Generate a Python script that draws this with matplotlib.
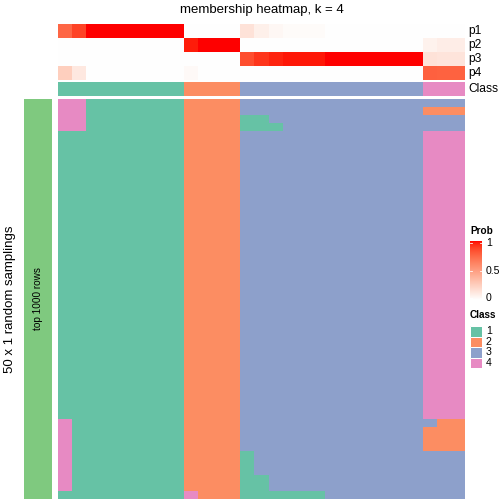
import numpy as np
import matplotlib
matplotlib.use("Agg")
import matplotlib.pyplot as plt
from matplotlib.colors import ListedColormap
from matplotlib.patches import Rectangle

plt.rcParams['font.family'] = ['Liberation Sans', 'DejaVu Sans']

# ---------------- data ----------------
title = "membership heatmap, k = 4"
prob_labels = ["p1", "p2", "p3", "p4"]
class_label = "Class"
classes = [1, 2, 3, 4]

p1 = [0.75, 0.88, 1, 1, 1, 1, 1, 1, 1,
      0, 0, 0, 0,
      0.15, 0.08, 0.04, 0.02, 0.02, 0.02, 0, 0, 0, 0, 0, 0, 0,
      0, 0, 0]
p2 = [0, 0, 0, 0, 0, 0, 0, 0, 0,
      0.97, 1, 1, 1,
      0, 0, 0, 0, 0, 0, 0, 0, 0, 0, 0, 0, 0,
      0.07, 0.09, 0.09]
p3 = [0, 0, 0, 0, 0, 0, 0, 0, 0,
      0, 0, 0, 0,
      0.85, 0.92, 0.96, 0.98, 0.98, 0.98, 1, 1, 1, 1, 1, 1, 1,
      0.15, 0.14, 0.14]
p4 = [0.25, 0.12, 0, 0, 0, 0, 0, 0, 0,
      0.03, 0, 0, 0,
      0, 0, 0, 0, 0, 0, 0, 0, 0, 0, 0, 0, 0,
      0.78, 0.77, 0.77]
sample_class = [1]*9 + [2]*4 + [3]*13 + [4]*3

# 50 random samplings (rows) x 29 samples (columns), class per cell
samplings = [
    "44111111122223333333333333333",
    "44111111122223333333333333222",
    "44111111122221133333333333333",
    "44111111122221113333333333333",
] + ["11111111122223333333333333444"] * 36 + [
    "41111111122223333333333333322",
    "41111111122223333333333333222",
    "41111111122223333333333333222",
    "41111111122223333333333333222",
    "41111111122221333333333333333",
    "41111111122221333333333333333",
    "41111111122221333333333333333",
    "41111111122221133333333333333",
    "41111111122221133333333333333",
    "11111111142221111113333333333",
]
left_label = "50 x 1 random samplings"
bar_label = "top 1000 rows"
prob_ticks = [0, 0.5, 1]

# ---------------- styles ----------------
class_colors = {1: "#66C2A5", 2: "#FC8D62", 3: "#8DA0CB", 4: "#E78AC3"}
bar_color = "#7FC97F"
W = H = 504


def lab_to_rgb(L, a, b):
    fy = (L + 16) / 116
    fx = fy + a / 500
    fz = fy - b / 200
    def finv(t):
        return np.where(t > 6/29, t**3, 3*(6/29)**2*(t - 4/29))
    X = 0.95047 * finv(fx)
    Y = 1.0 * finv(fy)
    Z = 1.08883 * finv(fz)
    M = np.array([[3.2406, -1.5372, -0.4986],
                  [-0.9689, 1.8758, 0.0415],
                  [0.0557, -0.2040, 1.0570]])
    lin = M @ np.vstack([X, Y, Z])
    lin = np.clip(lin, 0, 1)
    srgb = np.where(lin <= 0.0031308, 12.92*lin, 1.055*lin**(1/2.4) - 0.055)
    return np.clip(srgb.T, 0, 1)


t = np.linspace(0, 1, 256)
prob_cmap = ListedColormap(lab_to_rgb(100 - 46.76*t, 80.09*t, 67.20*t))
class_cmap = ListedColormap([class_colors[c] for c in classes])


def box(x0, y0, x1, y1):
    return [x0/W, 1 - y1/H, (x1-x0)/W, (y1-y0)/H]


fig = plt.figure(figsize=(7, 7), dpi=72)

X0, X1 = 58, 465

# probability annotation
ax_p = fig.add_axes(box(X0, 24, X1, 80))
prob_mat = np.array([p1, p2, p3, p4])
ax_p.imshow(prob_mat, cmap=prob_cmap, vmin=0, vmax=1, aspect='auto',
            interpolation='nearest')
ax_p.set_axis_off()

# class annotation
ax_c = fig.add_axes(box(X0, 82, X1, 96))
ax_c.imshow(np.array([sample_class]), cmap=class_cmap, vmin=0.5, vmax=4.5,
            aspect='auto', interpolation='nearest')
ax_c.set_axis_off()

# row labels of annotations
for i, lab in enumerate(prob_labels):
    fig.text(468/W, 1 - (31 + 14*i)/H, lab, ha='left', va='center', fontsize=12)
fig.text(468/W, 1 - 89/H, class_label, ha='left', va='center', fontsize=12)

# main heatmap
ax_m = fig.add_axes(box(X0, 99, X1, 499))
mat = np.array([[int(ch) for ch in row] for row in samplings])
ax_m.imshow(mat, cmap=class_cmap, vmin=0.5, vmax=4.5, aspect='auto',
            interpolation='nearest')
ax_m.set_axis_off()

# left split bar
ax_b = fig.add_axes(box(24, 99, 52, 499))
ax_b.set_facecolor(bar_color)
ax_b.set_xticks([]); ax_b.set_yticks([])
for s in ax_b.spines.values():
    s.set_visible(False)
ax_b.text(0.5, 0.5, bar_label, rotation=90, ha='center', va='center',
          fontsize=10, transform=ax_b.transAxes)

fig.text(10/W, 1 - 299/H, left_label, rotation=90, ha='center', va='center',
         fontsize=13.2)

fig.text((X0 + X1)/2/W, 1 - 10/H, title, ha='center', va='center',
         fontsize=13.2)

# legend: Prob
fig.text(470/W, 1 - 231/H, "Prob", ha='left', va='center', fontsize=10,
         fontweight='bold')
ax_l = fig.add_axes(box(470, 241, 482, 300))
grad = np.linspace(1, 0, 200).reshape(-1, 1)
ax_l.imshow(grad, cmap=prob_cmap, vmin=0, vmax=1, aspect='auto',
            extent=[0, 1, -0.03, 1.03])
ax_l.set_xlim(0, 1); ax_l.set_ylim(-0.03, 1.03)
for v in prob_ticks:
    ax_l.plot([0, 0.2], [v, v], color='white', lw=0.8)
    ax_l.plot([0.8, 1], [v, v], color='white', lw=0.8)
ax_l.set_axis_off()
for v in prob_ticks:
    fig.text(486/W, 1 - (298 - 55*v)/H, f"{v:g}", ha='left', va='center',
             fontsize=10.5)

# legend: Class
fig.text(470/W, 1 - 315/H, "Class", ha='left', va='center', fontsize=10,
         fontweight='bold')
for i, c in enumerate(classes):
    y0 = 326 + 10.5*i
    ax_k = fig.add_axes(box(470, y0, 482, y0 + 10.5))
    ax_k.add_patch(Rectangle((0, 0), 1, 1, color=class_colors[c]))
    ax_k.add_patch(Rectangle((0, 0), 1, 1, fill=False, ec='white', lw=1))
    ax_k.set_xlim(0, 1); ax_k.set_ylim(0, 1)
    ax_k.set_axis_off()
    fig.text(486/W, 1 - (y0 + 5.25)/H, str(c), ha='left', va='center',
             fontsize=10.5)

fig.savefig("out.png", dpi=72)
